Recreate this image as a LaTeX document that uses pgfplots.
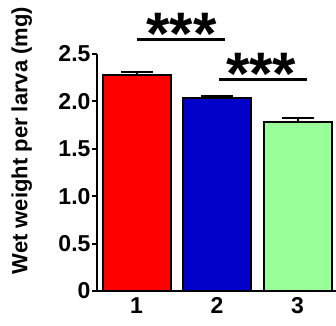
\documentclass[border=0pt]{standalone}
\usepackage{pgfplots}
\pgfplotsset{compat=1.18}
\usepackage{fontspec}
\setmainfont{Liberation Sans}
\definecolor{barred}{RGB}{255,0,0}
\definecolor{barblue}{RGB}{0,0,200}
\definecolor{bargreen}{RGB}{153,255,153}
\begin{document}
\begin{tikzpicture}
\useasboundingbox (0,0) rectangle (336pt,325pt);
\begin{axis}[
  at={(97pt,34pt)}, anchor=south west,
  scale only axis, width=239pt, height=237pt,
  xmin=0.509, xmax=3.478, ymin=0, ymax=2.5,
  axis x line*=bottom, axis y line*=left,
  axis line style={line width=2pt, -},
  xtick={1,2,3}, xticklabels={1,2,3},
  ytick={0,0.5,1,1.5,2,2.5}, yticklabels={0,0.5,1.0,1.5,2.0,2.5},
  major x tick style={draw=none},
  major y tick style={line width=2pt, black},
  tick align=outside, major tick length=5pt,
  ticklabel style={font=\bfseries\fontsize{23}{23}\selectfont},
  yticklabel style={xshift=2pt},
  xticklabel style={yshift=2pt},
  /pgf/number format/assume math mode=true,
  ylabel={Wet weight per larva (mg)},
  ylabel style={font=\bfseries\fontsize{22}{22}\selectfont, at={(axis description cs:-0.315,0.635)}, anchor=center, rotate=0},
  ybar, bar width=68pt, bar shift=0pt,
  clip=false,
]
\addplot[fill=barred, draw=black, line width=2pt,
  error bars/.cd, y dir=plus, y explicit,
  error bar style={line width=2pt, black},
  error mark options={rotate=90, mark size=16pt, line width=2pt, black}]
  coordinates {(1,2.28) +- (0,0.035)};
\addplot[fill=barblue, draw=black, line width=2pt,
  error bars/.cd, y dir=plus, y explicit,
  error bar style={line width=2pt, black},
  error mark options={rotate=90, mark size=16pt, line width=2pt, black}]
  coordinates {(2,2.035) +- (0,0.025)};
\addplot[fill=bargreen, draw=black, line width=2pt,
  error bars/.cd, y dir=plus, y explicit,
  error bar style={line width=2pt, black},
  error mark options={rotate=90, mark size=16pt, line width=2pt, black}]
  coordinates {(3,1.78) +- (0,0.05)};
\addplot[sharp plot, line width=3pt, black, forget plot] coordinates {(1.006,2.658) (2.099,2.658)};
\addplot[sharp plot, line width=3pt, black, forget plot] coordinates {(2.025,2.236) (3.118,2.236)};
\node[font=\bfseries\fontsize{60}{60}\selectfont, inner sep=0pt, anchor=base] at (axis cs:1.559,2.493) {***};
\node[font=\bfseries\fontsize{60}{60}\selectfont, inner sep=0pt, anchor=base] at (axis cs:2.547,2.07) {***};
\end{axis}
\end{tikzpicture}
\end{document}
